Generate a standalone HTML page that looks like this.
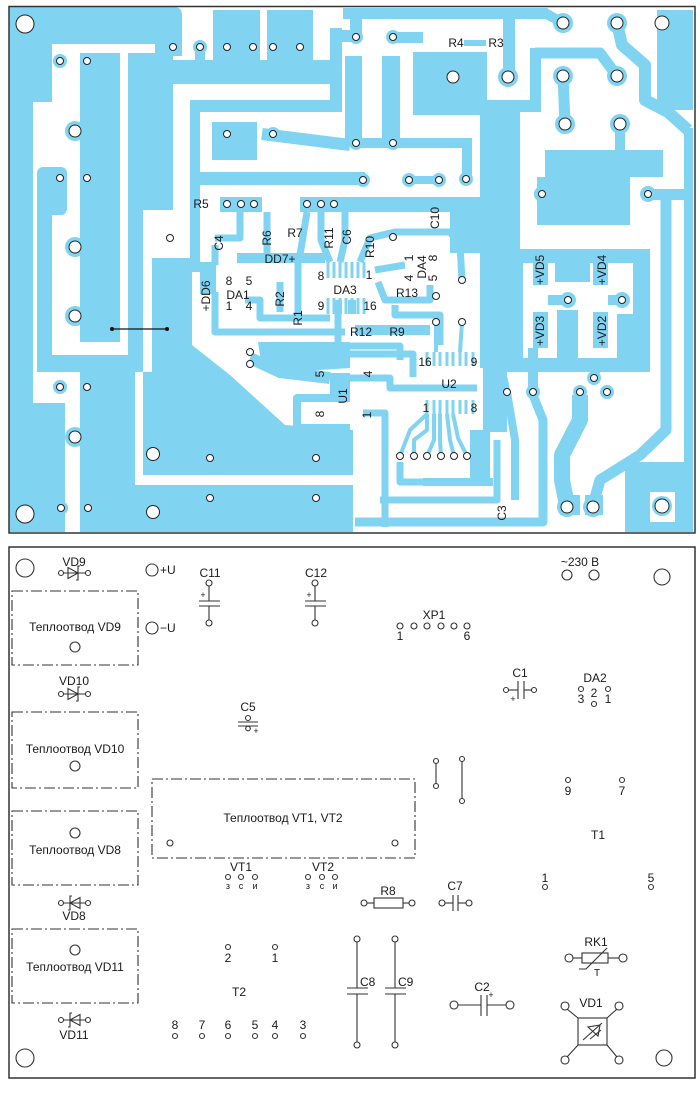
<!DOCTYPE html>
<html><head><meta charset="utf-8"><style>
html,body{margin:0;padding:0;background:#fff}
svg{display:block}
text{font-family:"Liberation Sans",Arial,sans-serif;fill:#1a1a1a}
</style></head><body>
<svg width="700" height="1093" viewBox="0 0 700 1093" xmlns="http://www.w3.org/2000/svg">
<rect width="700" height="1093" fill="#fff"/>
<!-- ================= TOP PCB ================= -->
<g fill="#80d4f2">
 <path d="M9 7H174Q182 7 182 15V56H155V44H9Z"/>
 <rect x="9" y="44" width="43" height="58"/>
 <rect x="9" y="100" width="24" height="432"/>
 <rect x="37" y="167" width="30" height="48" rx="6"/>
 <rect x="37" y="205" width="15" height="167"/>
 <rect x="80" y="53" width="40" height="289"/>
 <rect x="128" y="53" width="45" height="157"/>
 <rect x="128" y="205" width="15" height="150"/>
 <rect x="37" y="355" width="106" height="17"/>
 <rect x="80" y="372" width="55" height="160"/>
 <rect x="9" y="403" width="56" height="129"/>
 <polygon points="152,258 192,258 192,345 230,375 285,425 353,430 353,475 143,475 143,372 152,372"/>
 <rect x="80" y="485" width="273" height="47"/>
 <!-- top middle -->
 <rect x="195" y="45" width="10" height="18"/>
 <rect x="213" y="10" width="47" height="74"/>
 <rect x="267" y="10" width="46" height="74"/>
 <rect x="155" y="60" width="185" height="24"/>
 <rect x="330" y="28" width="12" height="84"/>
 <rect x="343" y="8" width="205" height="11"/>
 <rect x="350" y="8" width="12" height="30"/>
 <rect x="330" y="30" width="30" height="12"/>
 <rect x="393" y="32" width="30" height="11"/>
 <rect x="413" y="52" width="74" height="63"/>
 <rect x="464" y="40" width="22" height="6"/>
 <rect x="480" y="108" width="40" height="260"/>
 <rect x="450" y="197" width="70" height="56"/>
 <rect x="503" y="13" width="12" height="64"/>
 <rect x="483" y="100" width="58" height="12"/>
 <rect x="530" y="48" width="11" height="64"/>
 <rect x="345" y="56" width="17" height="87"/>
 <rect x="382" y="56" width="18" height="87"/>
 <rect x="356" y="138" width="116" height="10"/>
 <rect x="462" y="138" width="10" height="42"/>
 <!-- U shape & inner block -->
 <rect x="190" y="100" width="150" height="12"/>
 <rect x="190" y="100" width="10" height="172"/>
 <rect x="190" y="172" width="175" height="13"/>
 <rect x="212" y="122" width="45" height="38"/>
 <rect x="409" y="176" width="30" height="8"/>
 <rect x="220" y="197" width="42" height="15"/>
 <rect x="300" y="197" width="190" height="15"/>
 <rect x="200" y="262" width="16" height="32"/>
 <rect x="237" y="253" width="88" height="10"/>
 <polygon points="258,342 350,342 350,368 290,372 262,368"/>
 <!-- right side -->
 <rect x="657" y="10" width="36" height="100"/>
 <rect x="545" y="150" width="118" height="27"/>
 <rect x="537" y="177" width="93" height="48"/>
 <rect x="648" y="189" width="45" height="11"/>
 <rect x="503" y="249" width="147" height="14"/>
 <rect x="503" y="249" width="20" height="123"/>
 <rect x="633" y="249" width="17" height="123"/>
 <rect x="503" y="358" width="147" height="14"/>
 <rect x="555" y="249" width="35" height="33"/>
 <rect x="533" y="253" width="15" height="32"/>
 <rect x="593" y="253" width="15" height="32"/>
 <rect x="533" y="312" width="15" height="36"/>
 <rect x="593" y="312" width="15" height="36"/>
 <rect x="548" y="295" width="20" height="10"/>
 <rect x="608" y="295" width="14" height="10"/>
 <rect x="557" y="310" width="21" height="52"/>
 <rect x="617" y="314" width="16" height="58"/>
 <rect x="528" y="348" width="10" height="43"/>
 <rect x="684" y="128" width="9" height="334"/>
 <path d="M625 462H693V532H625Z M650 492V522H675V492Z" fill-rule="evenodd"/>
 <rect x="483" y="368" width="24" height="64"/>
 <rect x="470" y="430" width="20" height="55"/>
 <rect x="330" y="373" width="20" height="24"/>
 <rect x="560" y="495" width="20" height="20"/>
 <rect x="585" y="495" width="18" height="20"/>
</g>
<g fill="none" stroke="#80d4f2" stroke-linejoin="round">
 <polyline points="545,13 563,23" stroke-width="10"/>
 <polyline points="617,23 622,45 645,65 645,100 668,112 688,130" stroke-width="12"/>
 <polyline points="535,53 600,53 617,76" stroke-width="11"/>
 <polyline points="563,76 565,124" stroke-width="11"/>
 <polyline points="620,124 620,152" stroke-width="10"/>
 <polyline points="262,134 350,145" stroke-width="12"/>
 <polyline points="200,47 200,62" stroke-width="8"/>
 <polyline points="580,395 580,420 562,455 562,480 567,505" stroke-width="16"/>
 <polyline points="593,505 600,480 640,455 666,430 666,200" stroke-width="11"/>
 <polyline points="594,378 600,360" stroke-width="8"/>
 <!-- mid traces -->
 <g stroke-width="7">
  <polyline points="215,245 215,265"/>
  <polyline points="215,238 240,238 240,212"/>
  <polyline points="267,212 267,258"/>
  <polyline points="307,212 300,255"/>
  <polyline points="321,212 321,240 330,262"/>
  <polyline points="345,212 345,240 340,262"/>
  <polyline points="360,262 370,238 395,232 450,232 460,245 462,280"/>
  <polyline points="375,270 405,265"/>
  <polyline points="215,292 215,332 345,332"/>
  <polyline points="245,300 260,300 260,318 330,318"/>
  <polyline points="280,282 280,312"/>
  <polyline points="298,262 298,318"/>
  <polyline points="338,314 338,346 400,346 400,360"/>
  <polyline points="378,282 385,300 430,300 430,285"/>
  <polyline points="395,305 395,315 440,315 440,345"/>
  <polyline points="350,354 413,354 413,377"/>
  <polyline points="345,378 390,378 390,388 477,388"/>
  <polyline points="350,398 297,398 297,428 350,428" stroke-width="8"/>
  <polyline points="363,413 385,413 385,527"/>
  <polyline points="380,500 497,500 497,440" stroke-width="7"/>
  <polyline points="355,522 543,522 543,420 533,395" stroke-width="9"/>
  <polyline points="423,482 493,482" stroke-width="8"/>
  <polyline points="400,462 400,482 423,482"/>
  <polyline points="507,392 515,440 515,500" stroke-width="8"/>
  <polyline points="507,392 500,360"/>
 </g>
 <polyline points="355,330 430,330" stroke-width="10"/>
 <polyline points="250,358 280,372 330,378" stroke-width="12"/>
 <!-- chip pins -->
 <g stroke-width="3">
  <path d="M328 262V278M334 262V278M340 262V278M346 262V278M352 262V278M358 262V278M364 262V278"/>
  <path d="M328 298V314M334 298V314M340 298V314M346 298V314M352 298V314M358 298V314M364 298V314"/>
  <path d="M427 352V366M434 352V366M440 352V366M447 352V366M453 352V366M460 352V366M466 352V366M473 352V366"/>
  <path d="M427 400V414M434 400V414M440 400V414M447 400V414M453 400V414M460 400V414M466 400V414M473 400V414"/>
 </g>
 <g stroke-width="4">
  <polyline points="436,322 436,352"/>
  <polyline points="462,322 460,352"/>
  <polyline points="427,414 427,430 414,440 414,456"/>
  <polyline points="434,414 434,440 427,456"/>
  <polyline points="440,414 440,440 441,456"/>
  <polyline points="447,414 450,440 454,456"/>
  <polyline points="453,414 458,438 467,456"/>
  <polyline points="427,414 410,430 400,456"/>
 </g>
</g>
<rect x="334" y="300" width="8" height="14" fill="#80d4f2"/>
<rect x="348" y="300" width="8" height="14" fill="#80d4f2"/>
<!-- pad rings -->
<g fill="#80d4f2">
 <circle cx="173" cy="47" r="7"/><circle cx="200" cy="47" r="7"/>
 <circle cx="60" cy="61" r="7"/><circle cx="87" cy="61" r="7"/>
 <circle cx="75" cy="131" r="10"/><circle cx="75" cy="247" r="10"/><circle cx="75" cy="316" r="10"/><circle cx="75" cy="437" r="10"/>
 <circle cx="60" cy="178" r="7"/><circle cx="87" cy="178" r="7"/>
 <circle cx="60" cy="387" r="7"/><circle cx="87" cy="387" r="7"/>
 <circle cx="61" cy="508" r="7"/><circle cx="88" cy="508" r="7"/>
 <circle cx="356" cy="37" r="7"/><circle cx="393" cy="37" r="7"/>
 <circle cx="563" cy="23" r="10"/><circle cx="617" cy="23" r="10"/>
 <circle cx="508" cy="77" r="10"/><circle cx="563" cy="76" r="10"/><circle cx="617" cy="76" r="10"/>
 <circle cx="565" cy="124" r="10"/><circle cx="620" cy="124" r="10"/>
 <circle cx="363" cy="180" r="7"/><circle cx="409" cy="180" r="7"/><circle cx="439" cy="180" r="7"/><circle cx="466" cy="179" r="7"/>
 <circle cx="356" cy="143" r="7"/><circle cx="393" cy="143" r="7"/>
 <circle cx="542" cy="194" r="8"/><circle cx="648" cy="194" r="8"/>
 <circle cx="568" cy="300" r="8"/><circle cx="622" cy="300" r="8"/>
 <circle cx="533" cy="392" r="7"/><circle cx="594" cy="378" r="7"/><circle cx="607" cy="392" r="7"/><circle cx="580" cy="392" r="7"/>
 <circle cx="273" cy="134" r="7"/>
 <circle cx="662" cy="506" r="10"/>
 <circle cx="567" cy="507" r="10"/><circle cx="593" cy="507" r="10"/>
</g>
<!-- pads -->
<g fill="#fff" stroke="#222" stroke-width="1">
 <circle cx="173" cy="47" r="3.5"/><circle cx="200" cy="47" r="3.5"/><circle cx="227" cy="47" r="3.5"/><circle cx="253" cy="47" r="3.5"/><circle cx="273" cy="47" r="3.5"/><circle cx="300" cy="47" r="3.5"/>
 <circle cx="60" cy="61" r="3.5"/><circle cx="87" cy="61" r="3.5"/>
 <circle cx="227" cy="134" r="3.5"/><circle cx="273" cy="134" r="3.5"/>
 <circle cx="60" cy="178" r="3.5"/><circle cx="87" cy="178" r="3.5"/>
 <circle cx="170" cy="238" r="3.5"/>
 <circle cx="227" cy="204" r="3.5"/><circle cx="241" cy="204" r="3.5"/><circle cx="254" cy="204" r="3.5"/>
 <circle cx="307" cy="204" r="3.5"/><circle cx="321" cy="204" r="3.5"/><circle cx="334" cy="204" r="3.5"/>
 <circle cx="250" cy="352" r="3.5"/><circle cx="250" cy="364" r="3.5"/>
 <circle cx="60" cy="387" r="3.5"/><circle cx="87" cy="387" r="3.5"/>
 <circle cx="210" cy="458" r="3.5"/><circle cx="316" cy="458" r="3.5"/>
 <circle cx="210" cy="498" r="3.5"/><circle cx="316" cy="498" r="3.5"/>
 <circle cx="61" cy="508" r="3.5"/><circle cx="88" cy="508" r="3.5"/>
 <circle cx="356" cy="37" r="3.5"/><circle cx="393" cy="37" r="3.5"/>
 <circle cx="356" cy="143" r="3.5"/><circle cx="393" cy="143" r="3.5"/>
 <circle cx="363" cy="180" r="3.5"/><circle cx="409" cy="180" r="3.5"/><circle cx="439" cy="180" r="3.5"/><circle cx="466" cy="179" r="3.5"/>
 <circle cx="393" cy="237" r="3.5"/><circle cx="462" cy="280" r="3.5"/>
 <circle cx="436" cy="296" r="3.5"/><circle cx="436" cy="322" r="3.5"/><circle cx="462" cy="322" r="3.5"/>
 <circle cx="400" cy="456" r="3.5"/><circle cx="414" cy="456" r="3.5"/><circle cx="427" cy="456" r="3.5"/><circle cx="441" cy="456" r="3.5"/><circle cx="454" cy="456" r="3.5"/><circle cx="467" cy="456" r="3.5"/>
 <circle cx="507" cy="392" r="3.5"/><circle cx="533" cy="392" r="3.5"/><circle cx="580" cy="392" r="3.5"/><circle cx="607" cy="392" r="3.5"/><circle cx="594" cy="378" r="3.5"/>
 <circle cx="568" cy="300" r="3.5"/><circle cx="622" cy="300" r="3.5"/>
 <circle cx="542" cy="194" r="3.5"/><circle cx="648" cy="194" r="3.5"/>
 <circle cx="75" cy="131" r="6"/><circle cx="75" cy="247" r="6"/><circle cx="75" cy="316" r="6"/><circle cx="75" cy="437" r="6"/>
 <circle cx="453" cy="77" r="6"/><circle cx="508" cy="77" r="6"/><circle cx="563" cy="76" r="6"/><circle cx="617" cy="76" r="6"/>
 <circle cx="565" cy="124" r="6"/><circle cx="620" cy="124" r="6"/>
 <circle cx="563" cy="23" r="6"/><circle cx="617" cy="23" r="6"/>
 <circle cx="567" cy="507" r="6"/><circle cx="593" cy="507" r="6"/>
 <circle cx="153" cy="454" r="6.5"/><circle cx="153" cy="512" r="6.5"/>
 <circle cx="662" cy="23" r="7"/><circle cx="662" cy="506" r="7"/>
 <circle cx="25" cy="24" r="9"/><circle cx="25" cy="514" r="9"/>
</g>
<!-- jumper -->
<line x1="112" y1="329" x2="167" y2="329" stroke="#111" stroke-width="1.2"/>
<circle cx="112" cy="329" r="2" fill="#111"/><circle cx="167" cy="329" r="2" fill="#111"/>
<!-- top labels -->
<g font-size="12">
 <text x="201" y="208" text-anchor="middle">R5</text>
 <text x="295" y="237" text-anchor="middle">R7</text>
 <text x="280" y="263" text-anchor="middle">DD7+</text>
 <text x="238" y="299" text-anchor="middle">DA1</text>
 <text x="229" y="285" text-anchor="middle">8</text><text x="249" y="285" text-anchor="middle">5</text>
 <text x="229" y="310" text-anchor="middle">1</text><text x="249" y="310" text-anchor="middle">4</text>
 <text x="345" y="294" text-anchor="middle">DA3</text>
 <text x="321" y="280" text-anchor="middle">8</text><text x="369" y="279" text-anchor="middle">1</text>
 <text x="321" y="310" text-anchor="middle">9</text><text x="370" y="310" text-anchor="middle">16</text>
 <text x="407" y="297" text-anchor="middle">R13</text>
 <text x="361" y="336" text-anchor="middle">R12</text>
 <text x="397" y="336" text-anchor="middle">R9</text>
 <text x="425" y="366" text-anchor="middle">16</text><text x="474" y="366" text-anchor="middle">9</text>
 <text x="449" y="388" text-anchor="middle">U2</text>
 <text x="426" y="412" text-anchor="middle">1</text><text x="474" y="412" text-anchor="middle">8</text>
 <text x="456" y="47" text-anchor="middle">R4</text>
 <text x="496" y="47" text-anchor="middle">R3</text>
 <text transform="translate(271,238) rotate(-90)" text-anchor="middle">R6</text>
 <text transform="translate(223,243) rotate(-90)" text-anchor="middle">C4</text>
 <text transform="translate(333,238) rotate(-90)" text-anchor="middle">R11</text>
 <text transform="translate(351,237) rotate(-90)" text-anchor="middle">C6</text>
 <text transform="translate(374,247) rotate(-90)" text-anchor="middle">R10</text>
 <text transform="translate(439,218) rotate(-90)" text-anchor="middle">C10</text>
 <text transform="translate(210,296) rotate(-90)" text-anchor="middle">+DD6</text>
 <text transform="translate(284,299) rotate(-90)" text-anchor="middle">R2</text>
 <text transform="translate(302,318) rotate(-90)" text-anchor="middle">R1</text>
 <text transform="translate(426,267) rotate(-90)" text-anchor="middle">DA4</text>
 <text transform="translate(413,258) rotate(-90)" text-anchor="middle">1</text>
 <text transform="translate(437,258) rotate(-90)" text-anchor="middle">8</text>
 <text transform="translate(413,278) rotate(-90)" text-anchor="middle">4</text>
 <text transform="translate(437,278) rotate(-90)" text-anchor="middle">5</text>
 <text transform="translate(324,374) rotate(-90)" text-anchor="middle">5</text>
 <text transform="translate(372,374) rotate(-90)" text-anchor="middle">4</text>
 <text transform="translate(347,396) rotate(-90)" text-anchor="middle">U1</text>
 <text transform="translate(324,414) rotate(-90)" text-anchor="middle">8</text>
 <text transform="translate(371,415) rotate(-90)" text-anchor="middle">1</text>
 <text transform="translate(506,513) rotate(-90)" text-anchor="middle">C3</text>
 <text transform="translate(544,270) rotate(-90)" text-anchor="middle">+VD5</text>
 <text transform="translate(606,270) rotate(-90)" text-anchor="middle">+VD4</text>
 <text transform="translate(544,331) rotate(-90)" text-anchor="middle">+VD3</text>
 <text transform="translate(606,331) rotate(-90)" text-anchor="middle">+VD2</text>
</g>
<rect x="9" y="6.5" width="686" height="526.5" fill="none" stroke="#333" stroke-width="1.5"/>

<!-- ================= BOTTOM ASSEMBLY ================= -->
<rect x="9" y="547" width="686" height="531" fill="none" stroke="#333" stroke-width="1.5"/>
<g fill="none" stroke="#333" stroke-width="1.1">
 <circle cx="25" cy="568" r="9"/><circle cx="662" cy="577" r="8"/>
 <circle cx="25" cy="1058" r="9"/><circle cx="664" cy="1058" r="8"/>
 <circle cx="152" cy="570" r="6"/><circle cx="152" cy="628" r="6"/>
 <circle cx="567" cy="575" r="5"/><circle cx="594" cy="575" r="5"/>
 <!-- heatsinks -->
 <g stroke-dasharray="11 3 2 3">
  <rect x="12" y="591" width="126" height="74"/>
  <rect x="12" y="712" width="126" height="76"/>
  <rect x="12" y="811" width="126" height="74"/>
  <rect x="12" y="929" width="126" height="74"/>
  <rect x="152" y="779" width="263" height="79"/>
 </g>
 <circle cx="75" cy="647" r="5"/><circle cx="75" cy="766" r="5"/><circle cx="75" cy="833" r="5"/><circle cx="75" cy="950" r="5"/>
 <circle cx="170" cy="843" r="3"/><circle cx="395" cy="843" r="3"/>
 <!-- diodes -->
 <g>
  <circle cx="61" cy="573" r="2.5"/><circle cx="88" cy="573" r="2.5"/>
  <line x1="63.5" y1="573" x2="85.5" y2="573"/><polygon points="68,567.5 68,578.5 78,573"/><polyline points="80,566 78,566 78,580 76,580"/>
 </g>
 <g>
  <circle cx="61" cy="694" r="2.5"/><circle cx="88" cy="694" r="2.5"/>
  <line x1="63.5" y1="694" x2="85.5" y2="694"/><polygon points="68,688.5 68,699.5 78,694"/><polyline points="80,687 78,687 78,701 76,701"/>
 </g>
 <g>
  <circle cx="61" cy="903" r="2.5"/><circle cx="88" cy="903" r="2.5"/>
  <line x1="63.5" y1="903" x2="85.5" y2="903"/><polygon points="80,897.5 80,908.5 70,903"/><polyline points="72,896 70,896 70,910 68,910"/>
 </g>
 <g>
  <circle cx="61" cy="1020" r="2.5"/><circle cx="88" cy="1020" r="2.5"/>
  <line x1="63.5" y1="1020" x2="85.5" y2="1020"/><polygon points="80,1014.5 80,1025.5 70,1020"/><polyline points="72,1013 70,1013 70,1027 68,1027"/>
 </g>
 <!-- C11 C12 -->
 <circle cx="209" cy="583" r="3"/><line x1="209" y1="586" x2="209" y2="601"/><line x1="199" y1="601" x2="220" y2="601"/><line x1="199" y1="606" x2="220" y2="606"/><line x1="209" y1="606" x2="209" y2="620"/><circle cx="209" cy="623" r="3"/>
 <circle cx="315" cy="583" r="3"/><line x1="315" y1="586" x2="315" y2="601"/><line x1="305" y1="601" x2="326" y2="601"/><line x1="305" y1="606" x2="326" y2="606"/><line x1="315" y1="606" x2="315" y2="620"/><circle cx="315" cy="623" r="3"/>
 <!-- C5 -->
 <circle cx="248" cy="718" r="2.5"/><line x1="238" y1="722" x2="258" y2="722"/><line x1="238" y1="726" x2="258" y2="726"/><circle cx="248" cy="728.5" r="2.3"/>
 <!-- XP1 -->
 <circle cx="400" cy="626" r="3"/><circle cx="414" cy="626" r="3"/><circle cx="427" cy="626" r="3"/><circle cx="441" cy="626" r="3"/><circle cx="454" cy="626" r="3"/><circle cx="467" cy="626" r="3"/>
 <!-- C1 -->
 <circle cx="506" cy="690" r="2.5"/><line x1="508.5" y1="690" x2="518" y2="690"/><line x1="518" y1="681" x2="518" y2="699"/><line x1="524" y1="681" x2="524" y2="699"/><line x1="524" y1="690" x2="531.5" y2="690"/><circle cx="534" cy="690" r="2.5"/>
 <!-- DA2 -->
 <circle cx="581" cy="689" r="2.5"/><circle cx="608" cy="689" r="2.5"/><circle cx="594" cy="704" r="2.5"/>
 <!-- jumpers -->
 <circle cx="436" cy="761" r="2.5"/><line x1="436" y1="763.5" x2="436" y2="783.5"/><circle cx="436" cy="786" r="2.5"/>
 <circle cx="462" cy="759" r="2.5"/><line x1="462" y1="761.5" x2="462" y2="798.5"/><circle cx="462" cy="801" r="2.5"/>
 <circle cx="568" cy="780" r="2.5"/><circle cx="622" cy="780" r="2.5"/>
 <circle cx="545" cy="887" r="2.5"/><circle cx="651" cy="887" r="2.5"/>
 <!-- VT pins -->
 <circle cx="228" cy="877" r="2.5"/><circle cx="241" cy="877" r="2.5"/><circle cx="255" cy="877" r="2.5"/>
 <circle cx="308" cy="877" r="2.5"/><circle cx="322" cy="877" r="2.5"/><circle cx="335" cy="877" r="2.5"/>
 <!-- R8 -->
 <circle cx="364" cy="903" r="3"/><line x1="367" y1="903" x2="374" y2="903"/><rect x="374" y="898" width="29" height="10"/><line x1="403" y1="903" x2="409" y2="903"/><circle cx="412" cy="903" r="3"/>
 <!-- C7 -->
 <circle cx="442" cy="903" r="3"/><line x1="445" y1="903" x2="453" y2="903"/><line x1="453" y1="895" x2="453" y2="911"/><line x1="458" y1="895" x2="458" y2="911"/><line x1="458" y1="903" x2="466" y2="903"/><circle cx="469" cy="903" r="3"/>
 <!-- T2 -->
 <circle cx="228" cy="947" r="2.5"/><circle cx="275" cy="947" r="2.5"/>
 <circle cx="175" cy="1036" r="2.5"/><circle cx="202" cy="1036" r="2.5"/><circle cx="228" cy="1036" r="2.5"/><circle cx="255" cy="1036" r="2.5"/><circle cx="275" cy="1036" r="2.5"/><circle cx="303" cy="1036" r="2.5"/>
 <!-- C8 C9 -->
 <circle cx="357" cy="939" r="3"/><line x1="357" y1="942" x2="357" y2="988"/><line x1="347" y1="988" x2="368" y2="988"/><line x1="347" y1="994" x2="368" y2="994"/><line x1="357" y1="994" x2="357" y2="1042"/><circle cx="357" cy="1045" r="3"/>
 <circle cx="395" cy="939" r="3"/><line x1="395" y1="942" x2="395" y2="988"/><line x1="385" y1="988" x2="406" y2="988"/><line x1="385" y1="994" x2="406" y2="994"/><line x1="395" y1="994" x2="395" y2="1042"/><circle cx="395" cy="1045" r="3"/>
 <!-- C2 -->
 <circle cx="454" cy="1005" r="4"/><line x1="458" y1="1005" x2="481" y2="1005"/><line x1="481" y1="995" x2="481" y2="1016"/><line x1="487" y1="995" x2="487" y2="1016"/><line x1="487" y1="1005" x2="506" y2="1005"/><circle cx="510" cy="1005" r="4"/>
 <!-- RK1 -->
 <circle cx="569" cy="958" r="4"/><line x1="573" y1="958" x2="582" y2="958"/><rect x="582" y="953" width="26" height="10"/><line x1="608" y1="958" x2="619" y2="958"/><circle cx="623" cy="958" r="4"/>
 <polyline points="579,969 586,969 607,948"/>
 <!-- VD1 -->
 <rect x="578" y="1018" width="29" height="27"/>
 <line x1="567" y1="1009" x2="578" y2="1018"/><line x1="617" y1="1009" x2="607" y2="1018"/>
 <line x1="567" y1="1057" x2="578" y2="1045"/><line x1="617" y1="1057" x2="607" y2="1045"/>
 <circle cx="565" cy="1006" r="4"/><circle cx="619" cy="1006" r="4"/><circle cx="565" cy="1060" r="4"/><circle cx="619" cy="1060" r="4"/>
 <line x1="583" y1="1040" x2="602" y2="1023"/><polygon points="588,1027 598,1036 600,1025"/><line x1="590" y1="1039" x2="601" y2="1030"/>
</g>
<g font-size="12">
 <text x="74" y="566" text-anchor="middle">VD9</text>
 <text x="160" y="574">+U</text>
 <text x="160" y="632">−U</text>
 <text x="210" y="577" text-anchor="middle">C11</text>
 <text x="316" y="577" text-anchor="middle">C12</text>
 <text x="75" y="631" text-anchor="middle">Теплоотвод VD9</text>
 <text x="74" y="685" text-anchor="middle">VD10</text>
 <text x="75" y="753" text-anchor="middle">Теплоотвод VD10</text>
 <text x="75" y="854" text-anchor="middle">Теплоотвод VD8</text>
 <text x="74" y="920" text-anchor="middle">VD8</text>
 <text x="75" y="971" text-anchor="middle">Теплоотвод VD11</text>
 <text x="74" y="1039" text-anchor="middle">VD11</text>
 <text x="248" y="711" text-anchor="middle">C5</text>
 <text x="283" y="822" text-anchor="middle">Теплоотвод VT1, VT2</text>
 <text x="241" y="871" text-anchor="middle">VT1</text>
 <text x="323" y="871" text-anchor="middle">VT2</text>
 <text x="388" y="895" text-anchor="middle">R8</text>
 <text x="455" y="890" text-anchor="middle">C7</text>
 <text x="598" y="839" text-anchor="middle">T1</text>
 <text x="545" y="882" text-anchor="middle">1</text>
 <text x="651" y="882" text-anchor="middle">5</text>
 <text x="568" y="795" text-anchor="middle">9</text>
 <text x="622" y="795" text-anchor="middle">7</text>
 <text x="595" y="682" text-anchor="middle">DA2</text>
 <text x="581" y="703" text-anchor="middle">3</text>
 <text x="594" y="697" text-anchor="middle">2</text>
 <text x="608" y="703" text-anchor="middle">1</text>
 <text x="520" y="677" text-anchor="middle">C1</text>
 <text x="580" y="566" text-anchor="middle">~230 В</text>
 <text x="434" y="619" text-anchor="middle">XP1</text>
 <text x="400" y="640" text-anchor="middle">1</text>
 <text x="467" y="640" text-anchor="middle">6</text>
 <text x="239" y="996" text-anchor="middle">T2</text>
 <text x="228" y="962" text-anchor="middle">2</text>
 <text x="275" y="962" text-anchor="middle">1</text>
 <text x="175" y="1029" text-anchor="middle">8</text>
 <text x="202" y="1029" text-anchor="middle">7</text>
 <text x="228" y="1029" text-anchor="middle">6</text>
 <text x="255" y="1029" text-anchor="middle">5</text>
 <text x="275" y="1029" text-anchor="middle">4</text>
 <text x="303" y="1029" text-anchor="middle">3</text>
 <text x="360" y="986">C8</text>
 <text x="398" y="986">C9</text>
 <text x="482" y="991" text-anchor="middle">C2</text>
 <text x="596" y="946" text-anchor="middle">RK1</text>
 <text x="591" y="1007" text-anchor="middle">VD1</text>
</g>
<g font-size="9">
 <text x="203" y="598" text-anchor="middle">+</text>
 <text x="309" y="598" text-anchor="middle">+</text>
 <text x="256" y="734" text-anchor="middle">+</text>
 <text x="513" y="702" text-anchor="middle">+</text>
 <text x="491" y="998" text-anchor="middle">+</text>
 <text x="228" y="889" text-anchor="middle">з</text><text x="241" y="889" text-anchor="middle">с</text><text x="255" y="889" text-anchor="middle">и</text>
 <text x="308" y="889" text-anchor="middle">з</text><text x="322" y="889" text-anchor="middle">с</text><text x="335" y="889" text-anchor="middle">и</text>
 <text x="597" y="976" text-anchor="middle" font-size="10">T</text>
</g>
</svg>
</body></html>
